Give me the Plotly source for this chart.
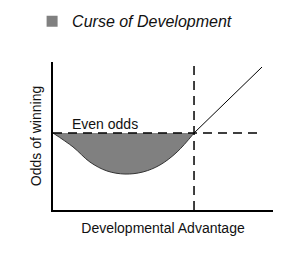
import plotly.graph_objects as go

# Data
curve_x = [0.0, 0.91, 1.68, 2.45, 3.27, 4.09, 4.86, 5.64, 6.41]
curve_y = [5.2, 4.26, 3.24, 2.64, 2.43, 2.57, 3.04, 3.92, 5.2]
rise_x = [6.41, 9.5]
rise_y = [5.2, 9.66]
even_odds = 5.2
threshold_x = 6.41
even_line_x = [0.0, 9.5]
series_name = "Curse of Development"
even_label = "Even odds"
x_title = "Developmental Advantage"
y_title = "Odds of winning"

FONT = "Liberation Sans, Arial, sans-serif"
fig = go.Figure()

fig.add_trace(go.Scatter(
    x=curve_x, y=curve_y, mode="lines", fill="toself",
    fillcolor="#808080", line=dict(color="#333333", width=1, shape="spline"),
    showlegend=False, hoverinfo="skip"))

fig.add_trace(go.Scatter(
    x=rise_x, y=rise_y, mode="lines",
    line=dict(color="#000000", width=1), showlegend=False))

fig.add_trace(go.Scatter(
    x=even_line_x, y=[even_odds, even_odds], mode="lines",
    line=dict(color="#000000", width=1.5, dash="9px,6px"), showlegend=False))

fig.add_trace(go.Scatter(
    x=[threshold_x, threshold_x], y=[0, 10], mode="lines",
    line=dict(color="#000000", width=1.5, dash="9px,6px"), showlegend=False))

# legend entry
fig.add_trace(go.Scatter(
    x=[None], y=[None], mode="markers", name="<i>" + series_name + "</i>",
    marker=dict(symbol="square", size=11, color="#808080")))

fig.add_annotation(x=0.75, y=even_odds, text=even_label, showarrow=False,
                   xanchor="left", yanchor="bottom", yshift=-1,
                   font=dict(family=FONT, size=14, color="#111111"))

fig.update_layout(
    width=303, height=275,
    margin=dict(l=53, r=30, t=62, b=65, autoexpand=False),
    paper_bgcolor="white", plot_bgcolor="white",
    showlegend=True,
    legend=dict(x=-0.095, y=1.275, xanchor="left", yanchor="middle",
                font=dict(family=FONT, size=16, color="#111111"),
                bgcolor="rgba(0,0,0,0)", itemwidth=30),
    xaxis=dict(range=[0, 10], showgrid=False, zeroline=False,
               showticklabels=False, ticks="", showline=True,
               linecolor="black", linewidth=2,
               title=dict(text=x_title, standoff=12,
                          font=dict(family=FONT, size=14, color="#111111"))),
    yaxis=dict(range=[0, 10], showgrid=False, zeroline=False,
               showticklabels=False, ticks="", showline=True,
               linecolor="black", linewidth=2,
               title=dict(text=y_title, standoff=6,
                          font=dict(family=FONT, size=14, color="#111111"))),
)

fig.write_html("out.html")
